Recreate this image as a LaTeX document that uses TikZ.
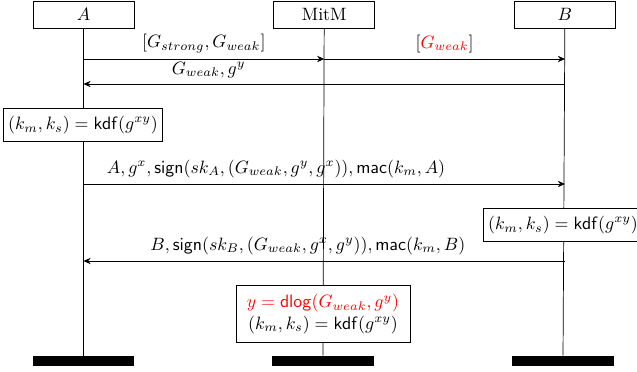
\documentclass[tikz,border=0pt]{standalone}
\usepackage{amsmath}
\usetikzlibrary{arrows.meta,positioning}

\begin{document}
\begin{tikzpicture}[
    x=0.56pt, y=-0.56pt,
    party/.style={draw, fill=white, minimum width=56.6pt, minimum height=15.1pt},
    endbar/.style={fill=black, minimum width=56.6pt, minimum height=5.6pt, inner sep=0pt},
    calc/.style={draw, fill=white, align=center, inner xsep=2.5pt, inner ysep=4.2pt},
    msg/.style={-{Stealth[length=1.4mm, width=1.25mm]}}
  ]
    \useasboundingbox (0,0) rectangle (637,372);
    % parties and their end bars
    \node[party] (A) at (83.5,14.5) {$A$};
    \node[party, right=77.8pt of A] (M) {MitM};
    \node[party, right=77.8pt of M] (B) {$B$};
    \node[endbar] (Aend) at (83.5,361) {};
    \node[endbar] (Mend) at (323,361) {};
    \node[endbar] (Bend) at (563,361) {};
    \draw (A) -- (Aend);
    \draw (M) -- (Mend);
    \draw (B) -- (Bend);
    % message end points
    \coordinate (a1) at (A |- 0,59);
    \coordinate (m1) at (M |- 0,59);
    \coordinate (b1) at (B |- 0,59);
    \coordinate (a2) at (A |- 0,84);
    \coordinate (b2) at (B |- 0,84);
    \coordinate (a3) at (A |- 0,184);
    \coordinate (b3) at (B |- 0,184);
    \coordinate (a4) at (A |- 0,261);
    \coordinate (b4) at (B |- 0,261);
    % messages
    \draw[msg] (a1) -- node[above] {$[G_{strong},G_{weak}]$} (m1);
    \draw[msg] (m1) -- node[above] {$[\textcolor{red}{G_{weak}}]$} (b1);
    \draw[msg] (b2) -- node[above, pos=0.74] {$G_{weak},g^y$} (a2);
    \draw[msg] (a3) -- node[above, pos=0.4]
      {$A,g^x,\mathsf{sign}(sk_A,(G_{weak},g^y,g^x)),\mathsf{mac}(k_m,A)$} (b3);
    \draw[msg] (b4) -- node[above, pos=0.534]
      {$B,\mathsf{sign}(sk_B,(G_{weak},g^x,g^y)),\mathsf{mac}(k_m,B)$} (a4);
    % key derivations
    \node[calc] (kA) at (83,125) {$(k_m,k_s)=\mathsf{kdf}(g^{xy})$};
    \node[calc] (kB) at (563,225) {$(k_m,k_s)=\mathsf{kdf}(g^{xy})$};
    \node[calc, inner xsep=6pt, inner ysep=5pt] (kM) at (323,314)
      {$\color{red}y=\mathsf{dlog}(G_{weak},g^y)$\\$(k_m,k_s)=\mathsf{kdf}(g^{xy})$};
  \end{tikzpicture}
\end{document}
